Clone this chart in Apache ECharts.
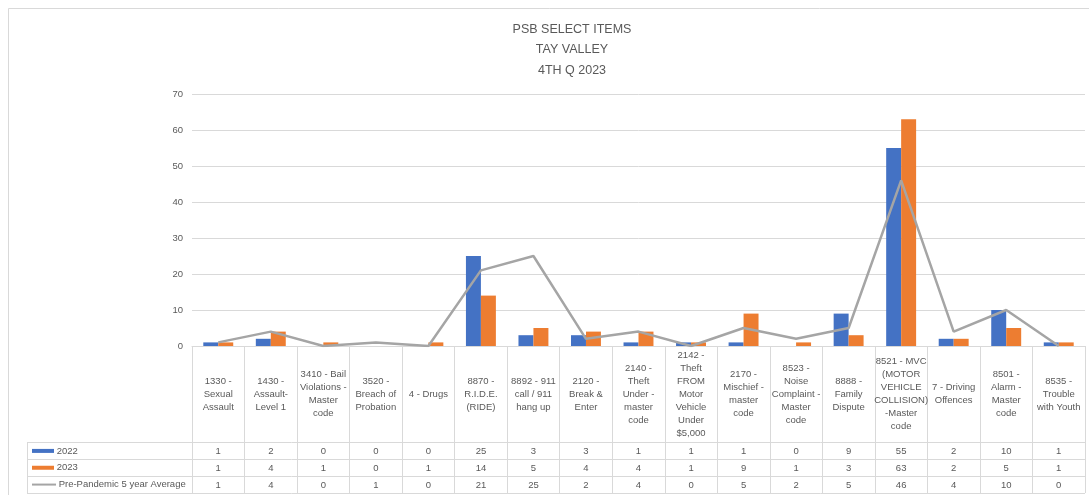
<!DOCTYPE html>
<html>
<head>
<meta charset="utf-8">
<script src="https://cdn.jsdelivr.net/npm/echarts@6/dist/echarts.min.js"></script>
<style>
html,body{margin:0;padding:0;background:#fff;}
#main{width:1089px;height:495px;}
</style>
</head>
<body>
<div id="main"></div>
<script>
const titleLines = ['PSB SELECT ITEMS', 'TAY VALLEY', '4TH Q 2023'];
const categories = [
  '1330 -\nSexual\nAssault',
  '1430 -\nAssault-\nLevel 1',
  '3410 - Bail\nViolations -\nMaster\ncode',
  '3520 -\nBreach of\nProbation',
  '4 - Drugs',
  '8870 -\nR.I.D.E.\n(RIDE)',
  '8892 - 911\ncall / 911\nhang up',
  '2120 -\nBreak &\nEnter',
  '2140 -\nTheft\nUnder -\nmaster\ncode',
  '2142 -\nTheft\nFROM\nMotor\nVehicle\nUnder\n$5,000',
  '2170 -\nMischief -\nmaster\ncode',
  '8523 -\nNoise\nComplaint -\nMaster\ncode',
  '8888 -\nFamily\nDispute',
  '8521 - MVC\n(MOTOR\nVEHICLE\nCOLLISION)\n-Master\ncode',
  '7 - Driving\nOffences',
  '8501 -\nAlarm -\nMaster\ncode',
  '8535 -\nTrouble\nwith Youth'
];
const seriesNames = ['2022', '2023', 'Pre-Pandemic 5 year Average'];
const values2022 = [1, 2, 0, 0, 0, 25, 3, 3, 1, 1, 1, 0, 9, 55, 2, 10, 1];
const values2023 = [1, 4, 1, 0, 1, 14, 5, 4, 4, 1, 9, 1, 3, 63, 2, 5, 1];
const valuesAvg  = [1, 4, 0, 1, 0, 21, 25, 2, 4, 0, 5, 2, 5, 46, 4, 10, 0];
const yMin = 0, yMax = 70, yStep = 10;

const colors = ['#4472c4', '#ed7d31', '#a5a5a5'];
const txt = '#595959';
const gridC = '#d9d9d9';
const font = 'Liberation Sans';

const chart = echarts.init(document.getElementById('main'), null, {renderer: 'canvas'});

const rowOffsets = [105, 122, 139];
const tableAxes = [values2022, values2023, valuesAvg].map((arr, k) => ({
  type: 'category', gridIndex: 0, position: 'bottom', offset: rowOffsets[k],
  data: arr.map(String),
  axisLine: {show: false}, axisTick: {show: false}, splitLine: {show: false},
  axisLabel: {interval: 0, margin: 0, verticalAlign: 'middle', color: txt, fontSize: 9.5, fontFamily: font}
}));

const option = {
  animation: false,
  backgroundColor: '#fff',
  graphic: [
    {type: 'rect', shape: {x: 8.5, y: 8.5, width: 1100, height: 500}, style: {fill: 'none', stroke: gridC, lineWidth: 1}, z: -1},
    {type: 'text', x: 572, y: 19, style: {text: titleLines.join('\n'), textAlign: 'center', fill: txt, fontSize: 12.5, fontFamily: font, lineHeight: 20.5}}
  ],
  grid: [
    {left: 192, top: 94, width: 893, height: 252},
    {left: 27, top: 442.5, width: 1058, height: 50.5}
  ],
  xAxis: [
    {
      type: 'category', gridIndex: 0, data: categories,
      axisLine: {show: true, lineStyle: {color: gridC}},
      axisTick: {show: true, interval: 0, length: 147, lineStyle: {color: gridC}},
      axisLabel: {interval: 0, margin: 48, verticalAlign: 'middle', color: txt, fontSize: 9.5, lineHeight: 13, fontFamily: font}
    },
    ...tableAxes,
    {type: 'value', gridIndex: 1, show: false}
  ],
  yAxis: [
    {
      type: 'value', gridIndex: 0, min: yMin, max: yMax, interval: yStep,
      axisLine: {show: false}, axisTick: {show: false},
      axisLabel: {color: txt, fontSize: 9.5, margin: 9, fontFamily: font},
      splitLine: {lineStyle: {color: gridC}}
    },
    {
      type: 'category', gridIndex: 1, inverse: true, data: seriesNames,
      axisLine: {show: true, lineStyle: {color: gridC}},
      axisTick: {show: false},
      splitLine: {show: true, showMinLine: true, showMaxLine: true, lineStyle: {color: gridC}},
      axisLabel: {
        inside: true, margin: 5, align: 'left',
        formatter: (v, i) => '{s' + i + '|}{t| ' + v + '}',
        rich: {
          s0: {width: 22, height: 4, backgroundColor: colors[0]},
          s1: {width: 22, height: 4, backgroundColor: colors[1]},
          s2: {width: 24, height: 2, backgroundColor: colors[2]},
          t: {color: txt, fontSize: 9.5, fontFamily: font}
        }
      }
    }
  ],
  series: [
    {name: seriesNames[0], type: 'bar', xAxisIndex: 0, yAxisIndex: 0, data: values2022,
     itemStyle: {color: colors[0]}, barGap: '0%', barCategoryGap: '43%'},
    {name: seriesNames[1], type: 'bar', xAxisIndex: 0, yAxisIndex: 0, data: values2023,
     itemStyle: {color: colors[1]}, barGap: '0%', barCategoryGap: '43%'},
    {name: seriesNames[2], type: 'line', xAxisIndex: 0, yAxisIndex: 0, data: valuesAvg,
     showSymbol: false, symbol: 'none', lineStyle: {color: colors[2], width: 2.5}, itemStyle: {color: colors[2]}, z: 5}
  ]
};
chart.setOption(option);
</script>
</body>
</html>
